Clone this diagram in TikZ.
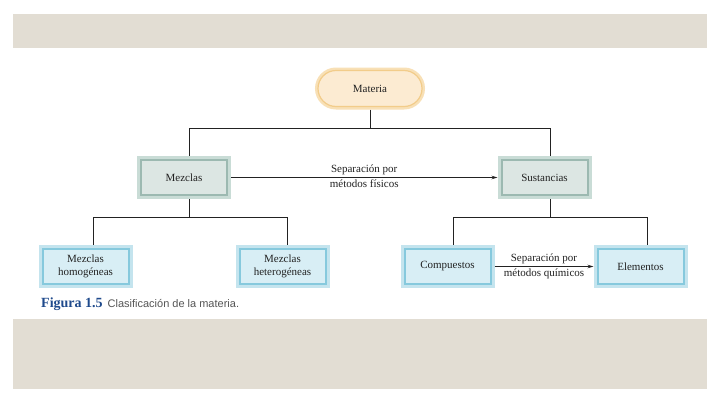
\documentclass[tikz,border=0pt]{standalone}
\usepackage{fontspec}
\setmainfont{Liberation Serif}
\newfontfamily\captionsans{Liberation Sans}
\usepackage{xcolor}
\definecolor{bandBeige}{HTML}{E2DDD3}
\definecolor{pillBand}{HTML}{F8E0B6}
\definecolor{pillLine}{HTML}{F2CC8A}
\definecolor{pillFill}{HTML}{FCEBD2}
\definecolor{sageBand}{HTML}{C9DCD6}
\definecolor{sageLine}{HTML}{9CB9B1}
\definecolor{sageFill}{HTML}{DCE6E3}
\definecolor{skyBand}{HTML}{C4E4EE}
\definecolor{skyLine}{HTML}{86C9DD}
\definecolor{skyFill}{HTML}{D8EEF5}
\definecolor{darkText}{HTML}{222222}
\definecolor{figureBlue}{HTML}{1F4A8C}
\definecolor{captionGray}{HTML}{555555}
\usepackage{tikz}
\usetikzlibrary{
    arrows.meta,
    positioning
}
\tikzset{
    % Base style for all boxes
    base box/.style={
        font=\fontsize{11}{13}\selectfont,
        align=center,
        text=darkText,
        rectangle,
        minimum width=86pt,
        minimum height=35pt,
        inner sep=2pt,
        outer sep=4pt,
        line width=2pt,
    },
    % Top node - pill with warm double frame
    pill/.style={
        base box,
        rounded corners=18pt,
        minimum width=104pt,
        minimum height=36pt,
        outer sep=3pt,
        line width=1.2pt,
        draw=pillLine,
        fill=pillFill,
        preaction={draw=pillBand, line width=6pt},
    },
    % Middle level - grey green double frame
    mix box/.style={
        base box,
        draw=sageLine,
        fill=sageFill,
        preaction={draw=sageBand, line width=8pt},
    },
    % Bottom level - light blue double frame
    leaf box/.style={
        base box,
        draw=skyLine,
        fill=skyFill,
        preaction={draw=skyBand, line width=8pt},
    },
    % Tree lines
    link/.style={
        line width=1pt,
        draw=darkText,
    },
    % Arrow between boxes
    arrow/.style={
        link,
        -{Stealth[length=6pt, width=3.5pt]},
    },
    % Label over/under arrows
    edge label/.style={
        font=\fontsize{11}{13}\selectfont,
        text=darkText,
        inner sep=2pt,
    },
}

\begin{document}
\begin{tikzpicture}[x=1pt, y=1pt, node distance=89pt]
    % page and grey bands
    \useasboundingbox [fill=white] (0,0) rectangle (720,-405);
    \fill [bandBeige] (13,-14) rectangle (707,-48);
    \fill [bandBeige] (13,-319) rectangle (707,-389);

    \node (materia) [pill] at (370,-88.5) {Materia};
    \node (mezclas) [mix box, below of=materia, xshift=-186pt] {Mezclas};
    \node (sustancias) [mix box, right of=mezclas, xshift=271.5pt] {Sustancias};
    \node (homogeneas) [leaf box, below of=mezclas, xshift=-98.5pt] {Mezclas\\homogéneas};
    \node (heterogeneas) [leaf box, right of=homogeneas, xshift=108pt] {Mezclas\\heterogéneas};
    \node (compuestos) [leaf box, below of=sustancias, xshift=-97pt] {Compuestos};
    \node (elementos) [leaf box, right of=compuestos, xshift=104pt] {Elementos};

    \draw [link] (materia.south) -- ++(0,-18.5) -| ([xshift=5pt]mezclas.north)
        (materia.south) ++(0,-18.5) -| ([xshift=5.5pt]sustancias.north);
    \draw [link] ([xshift=5pt]mezclas.south) -- ++(0,-18) -| ([xshift=7.5pt]homogeneas.north)
        ([xshift=5pt]mezclas.south) ++(0,-18) -| ([xshift=4.5pt]heterogeneas.north);
    \draw [link] ([xshift=5.5pt]sustancias.south) -- ++(0,-18) -| ([xshift=5.5pt]compuestos.north)
        ([xshift=5.5pt]sustancias.south) ++(0,-18) -| ([xshift=6.5pt]elementos.north);

    \draw [arrow] (mezclas) -- node [edge label, above] {Separación por}
        node [edge label, below] {métodos físicos} (sustancias);
    \draw [arrow] (compuestos) -- node [edge label, above] {Separación por}
        node [edge label, below] {métodos químicos} (elementos);

    \node (caption) [anchor=base west, inner sep=0pt] at (41,-307)
        {{\color{figureBlue}\bfseries\fontsize{14}{15}\selectfont Figura 1.5}\hspace{5pt}%
         {\captionsans\color{captionGray}\fontsize{11}{12}\selectfont Clasificación de la materia.}};
\end{tikzpicture}
\end{document}
